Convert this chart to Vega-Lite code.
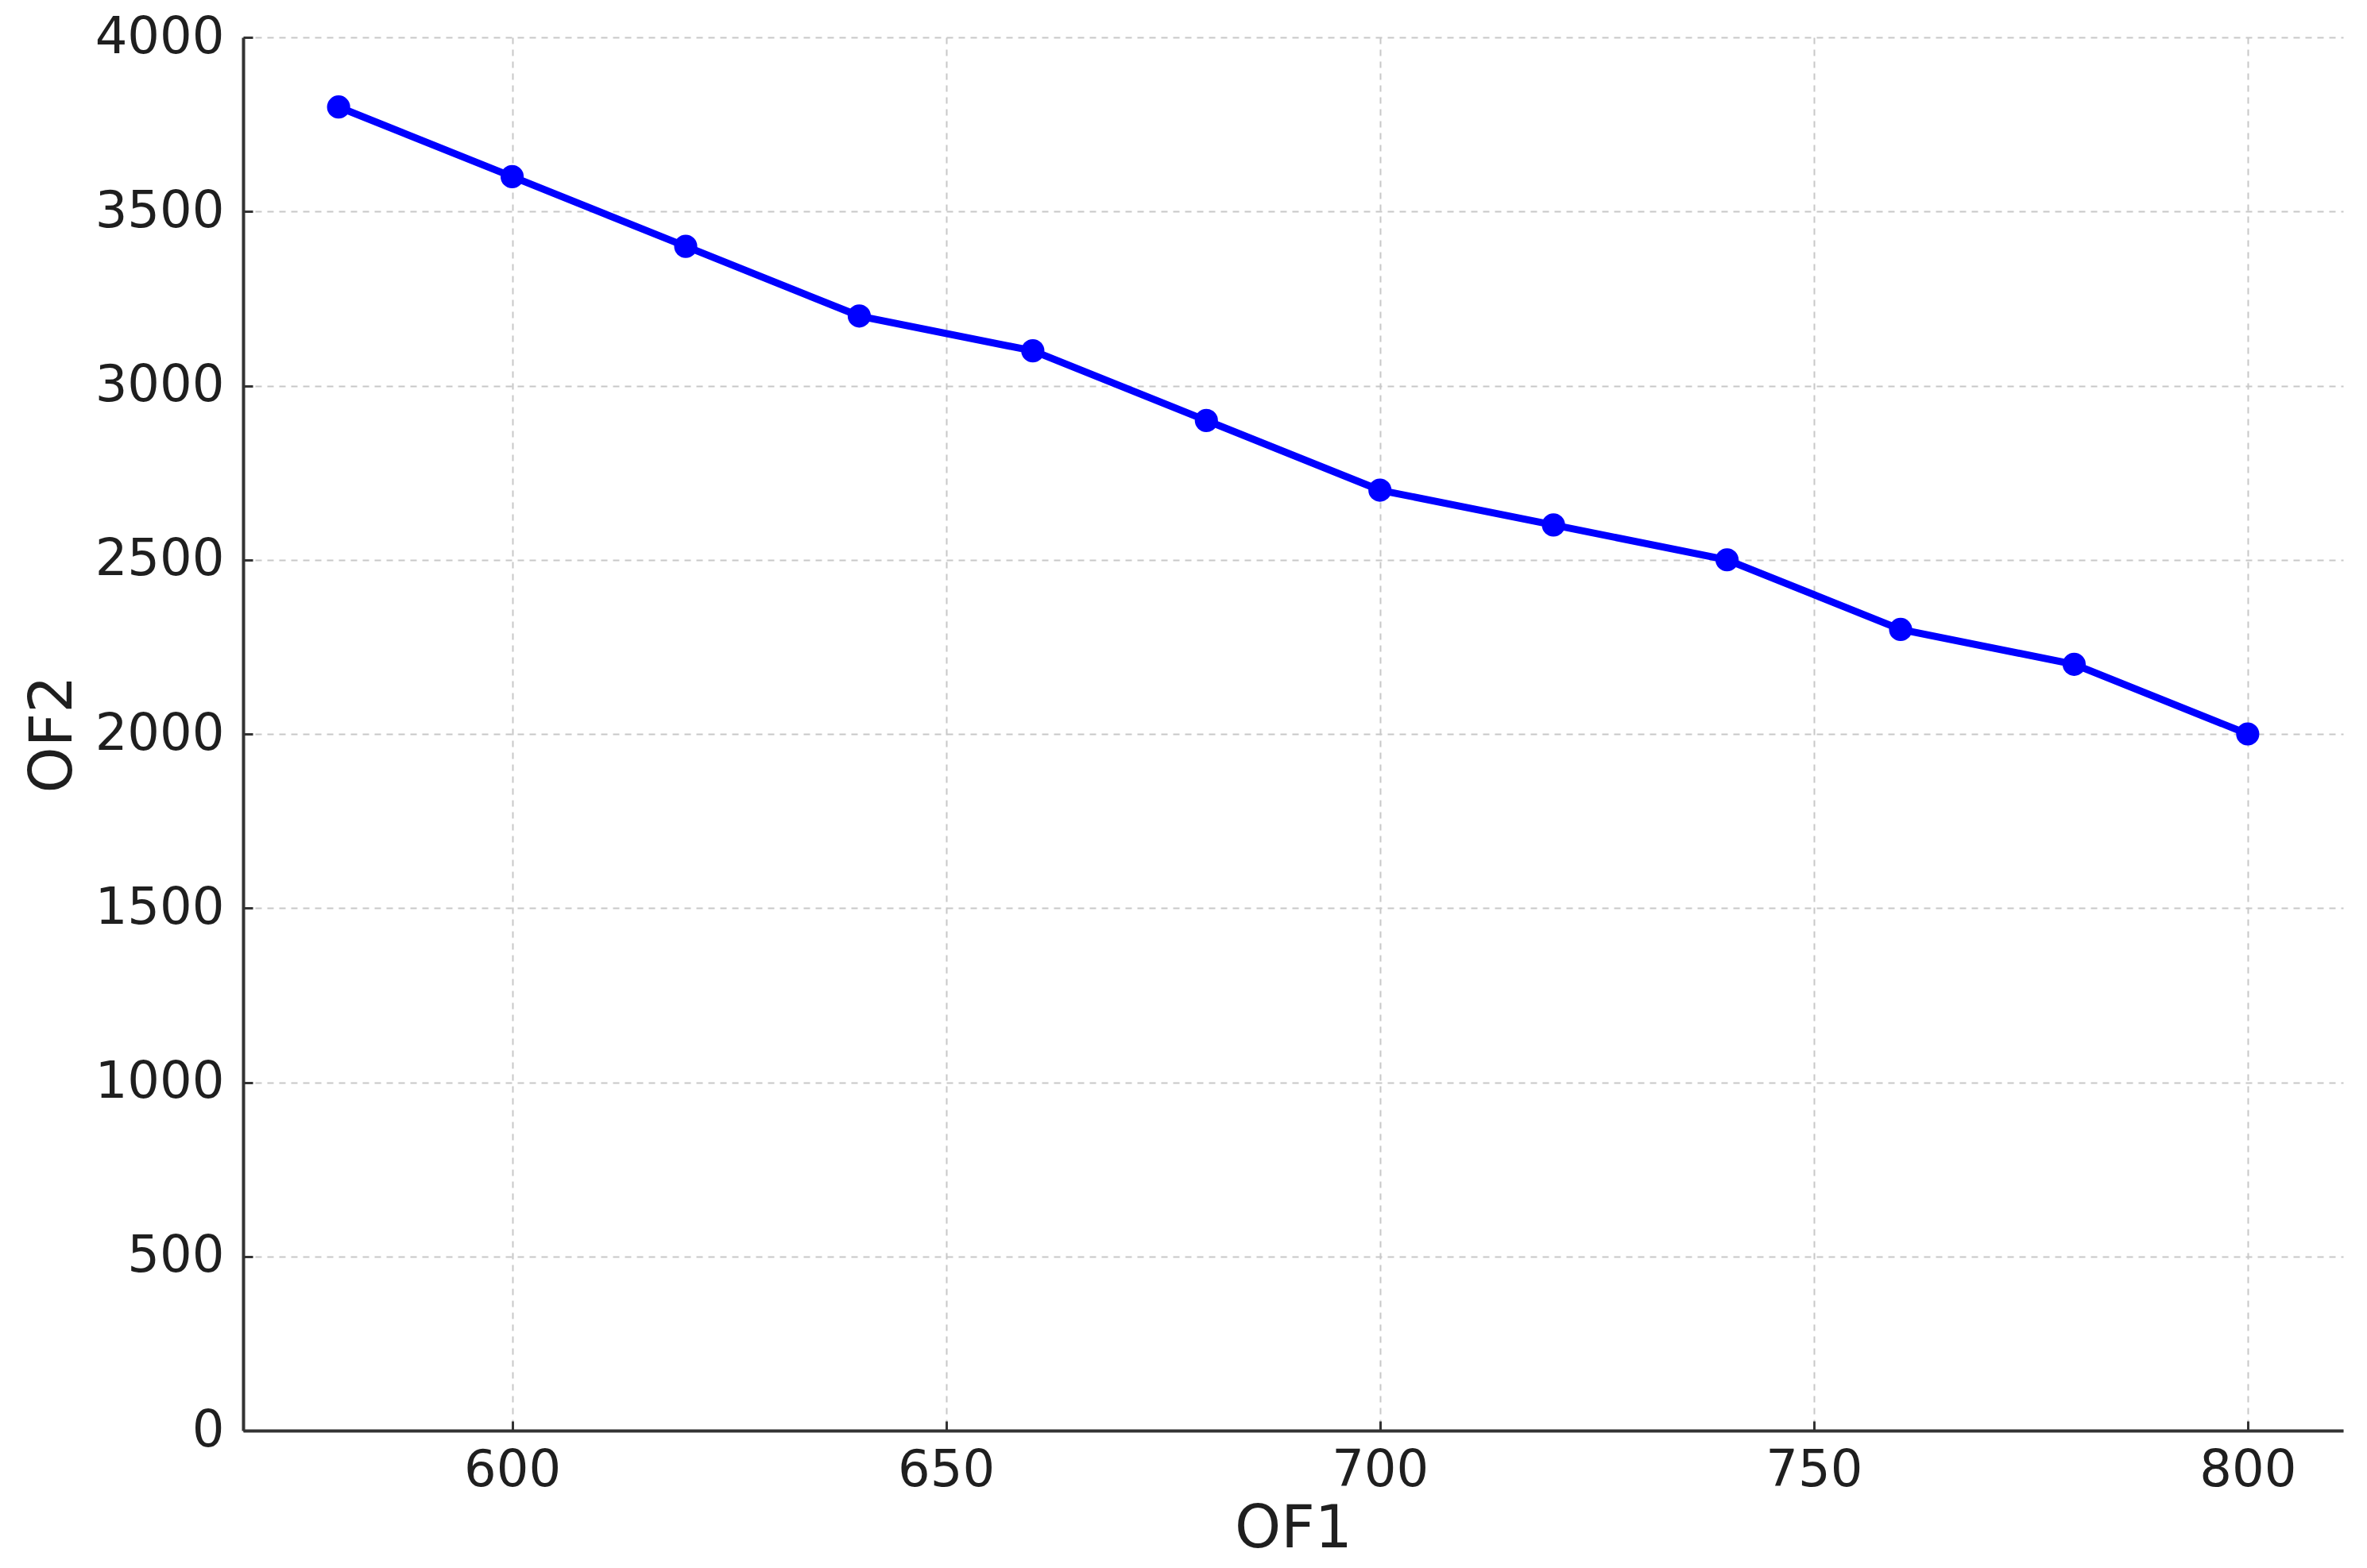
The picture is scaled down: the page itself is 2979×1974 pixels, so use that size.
{
  "$schema": "https://vega.github.io/schema/vega-lite/v6.json",
  "autosize": {"type": "none"},
  "width": 2643,
  "height": 1754,
  "padding": {"left": 306, "top": 47, "right": 30, "bottom": 173},
  "background": "white",
  "data": {
    "values": [
      {"OF1": 580, "OF2": 3800},
      {"OF1": 600, "OF2": 3600},
      {"OF1": 620, "OF2": 3400},
      {"OF1": 640, "OF2": 3200},
      {"OF1": 660, "OF2": 3100},
      {"OF1": 680, "OF2": 2900},
      {"OF1": 700, "OF2": 2700},
      {"OF1": 720, "OF2": 2600},
      {"OF1": 740, "OF2": 2500},
      {"OF1": 760, "OF2": 2300},
      {"OF1": 780, "OF2": 2200},
      {"OF1": 800, "OF2": 2000}
    ]
  },
  "config": {
    "view": {"stroke": null},
    "font": "DejaVu Sans",
    "axis": {
      "labelFont": "DejaVu Sans",
      "titleFont": "DejaVu Sans",
      "labelFontSize": 64,
      "titleFontSize": 74,
      "titleFontWeight": "normal",
      "labelColor": "#1f1f1f",
      "titleColor": "#1f1f1f",
      "domainColor": "#333333",
      "domainWidth": 4,
      "tickColor": "#333333",
      "tickWidth": 3,
      "tickSize": -12,
      "gridColor": "#c8c8c8",
      "gridWidth": 2,
      "gridDash": [8, 7]
    }
  },
  "encoding": {
    "x": {
      "field": "OF1",
      "type": "quantitative",
      "scale": {"domain": [569, 811], "nice": false, "zero": false},
      "axis": {"values": [600, 650, 700, 750, 800], "format": "d", "title": "OF1", "labelPadding": 30, "titlePadding": 6}
    },
    "y": {
      "field": "OF2",
      "type": "quantitative",
      "scale": {"domain": [0, 4000], "nice": false},
      "axis": {"values": [0, 500, 1000, 1500, 2000, 2500, 3000, 3500, 4000], "format": "d", "title": "OF2", "labelPadding": 36, "titlePadding": 14}
    }
  },
  "layer": [
    {"mark": {"type": "line", "color": "#0000ff", "strokeWidth": 9}},
    {"mark": {"type": "point", "filled": true, "color": "#0000ff", "opacity": 1, "size": 850}}
  ]
}
